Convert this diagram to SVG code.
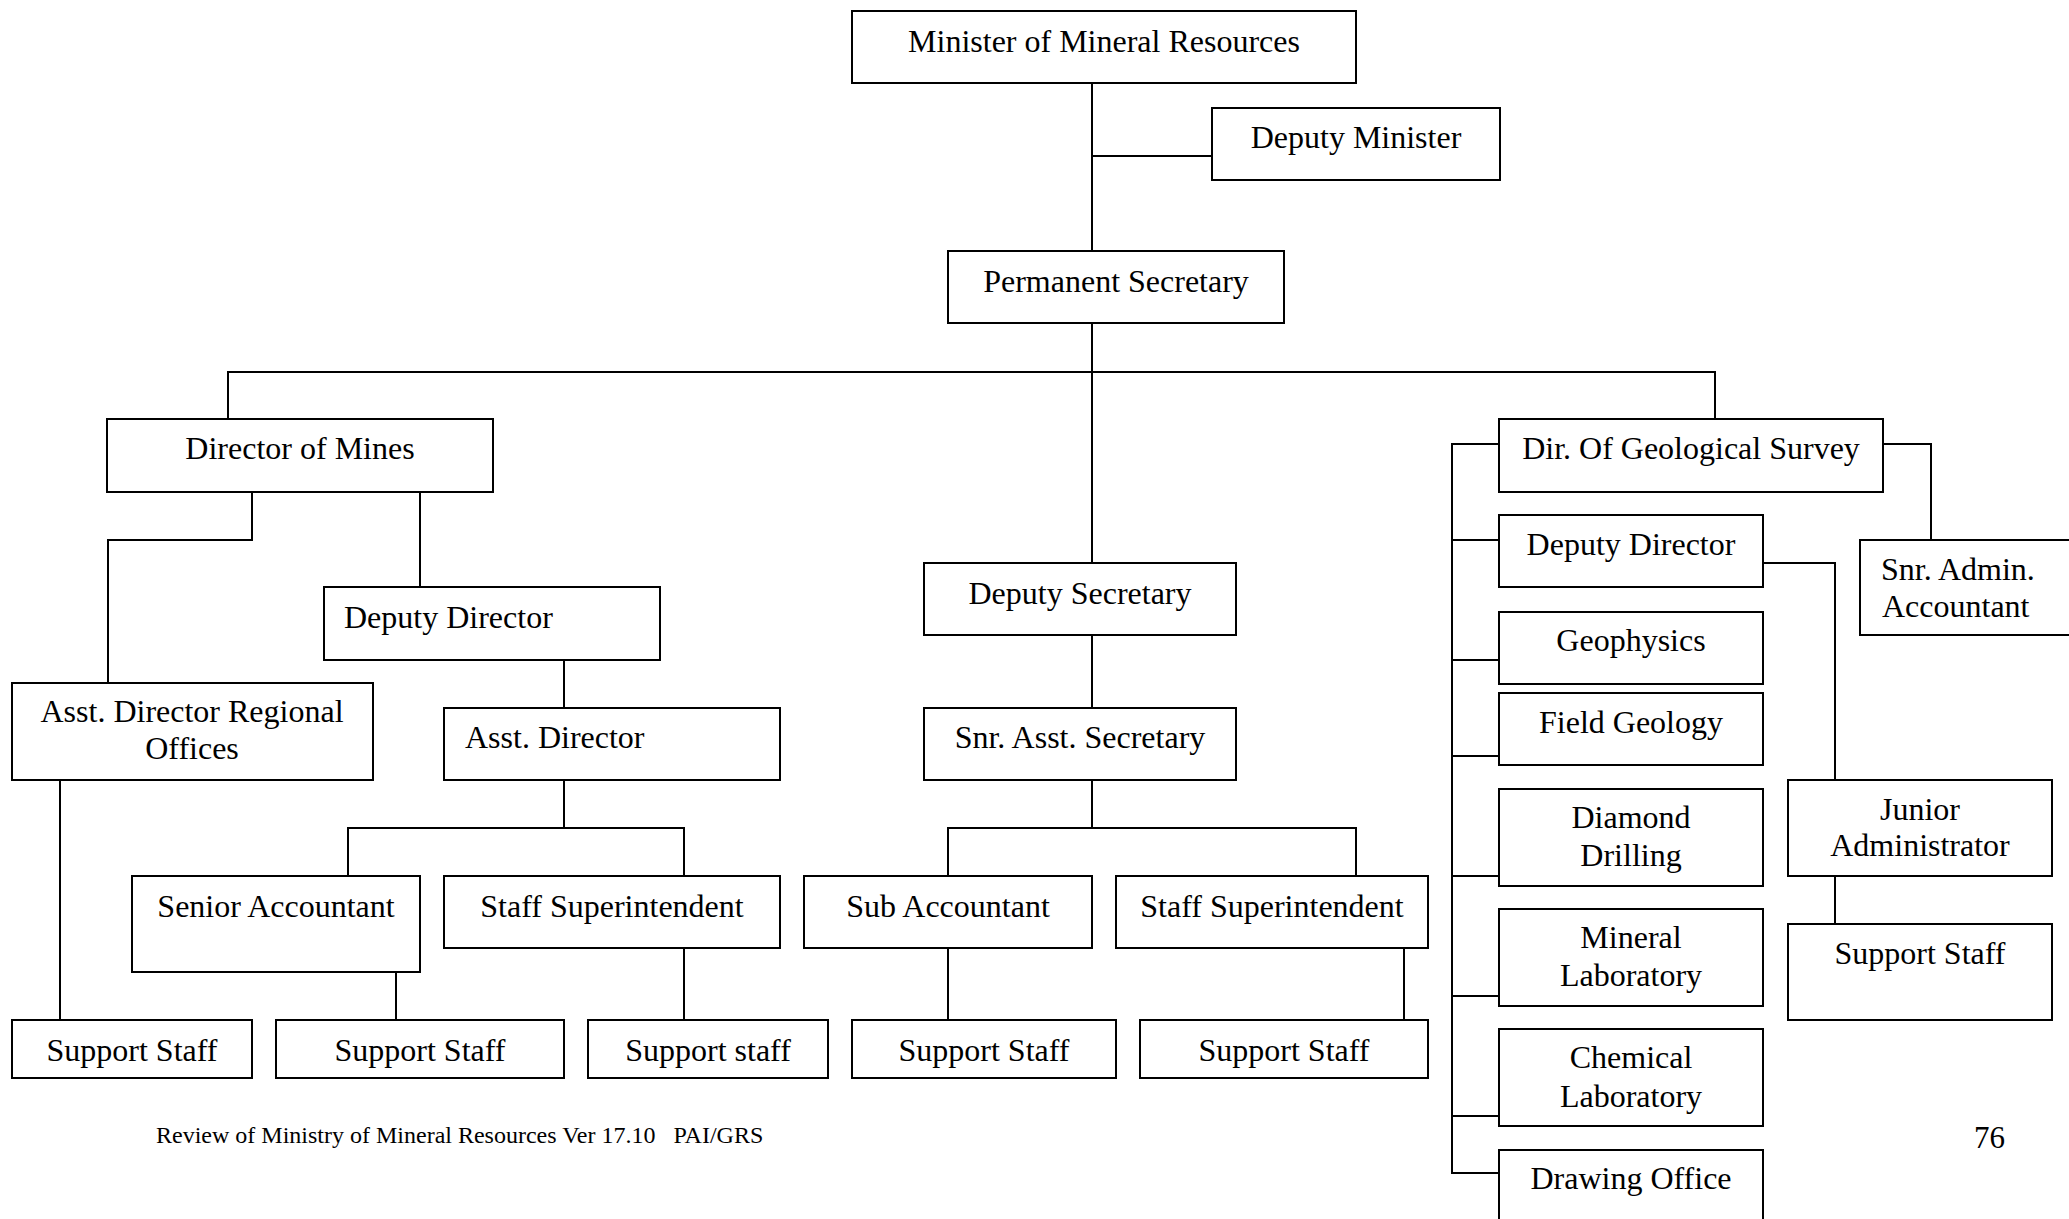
<svg xmlns="http://www.w3.org/2000/svg" width="2069" height="1219" viewBox="0 0 2069 1219">
<style>
rect{fill:#fff;stroke:#000;stroke-width:2}
.c path{fill:none;stroke:#000;stroke-width:2}
text{font-family:"Liberation Serif","Times New Roman",serif;font-size:32px;fill:#000}
.m{text-anchor:middle}
.s{text-anchor:start}
</style>
<rect x="0" y="0" width="2069" height="1219" style="stroke:none"/>
<g class="c" id="connectors">
<path d="M1092 83V251"/>
<path d="M1092 156H1212"/>
<path d="M1092 323V563"/>
<path d="M228 419V372H1715V419"/>
<path d="M252 492V540H108V683"/>
<path d="M420 492V587"/>
<path d="M564 660V708"/>
<path d="M564 780V828"/>
<path d="M348 876V828H684V876"/>
<path d="M60 780V1020"/>
<path d="M396 972V1020"/>
<path d="M684 948V1020"/>
<path d="M1092 635V708"/>
<path d="M1092 780V828"/>
<path d="M948 876V828H1356V876"/>
<path d="M948 948V1020"/>
<path d="M1404 948V1020"/>
<path d="M1499 444H1452V1173H1499"/>
<path d="M1452 540H1499M1452 660H1499M1452 756H1499M1452 876H1499M1452 996H1499M1452 1116H1499"/>
<path d="M1883 444H1931V540"/>
<path d="M1763 563H1835V780"/>
<path d="M1835 876V924"/>
</g>
<g id="minister"><rect x="852" y="11" width="504" height="72"/><text class="m" x="1104" y="52">Minister of Mineral Resources</text></g>
<g id="deputy-minister"><rect x="1212" y="108" width="288" height="72"/><text class="m" x="1356" y="148">Deputy Minister</text></g>
<g id="permanent-secretary"><rect x="948" y="251" width="336" height="72"/><text class="m" x="1116" y="292">Permanent Secretary</text></g>
<g id="director-mines"><rect x="107" y="419" width="386" height="73"/><text class="m" x="300" y="459">Director of Mines</text></g>
<g id="dir-geo"><rect x="1499" y="419" width="384" height="73"/><text class="m" x="1691" y="459">Dir. Of Geological Survey</text></g>
<g id="deputy-director-mines"><rect x="324" y="587" width="336" height="73"/><text class="s" x="344" y="628">Deputy Director</text></g>
<g id="deputy-secretary"><rect x="924" y="563" width="312" height="72"/><text class="m" x="1080" y="604">Deputy Secretary</text></g>
<g id="deputy-director-geo"><rect x="1499" y="515" width="264" height="72"/><text class="m" x="1631" y="555">Deputy Director</text></g>
<g id="snr-admin"><rect x="1860" y="540" width="260" height="95"/><text class="s" x="1881" y="580">Snr. Admin.</text><text class="s" x="1882" y="617">Accountant</text></g>
<g id="asst-dir-regional"><rect x="12" y="683" width="361" height="97"/><text class="m" x="192" y="722">Asst. Director Regional</text><text class="m" x="192" y="759">Offices</text></g>
<g id="asst-director"><rect x="444" y="708" width="336" height="72"/><text class="s" x="465" y="748">Asst. Director</text></g>
<g id="snr-asst-secretary"><rect x="924" y="708" width="312" height="72"/><text class="m" x="1080" y="748">Snr. Asst. Secretary</text></g>
<g id="senior-accountant"><rect x="132" y="876" width="288" height="96"/><text class="m" x="276" y="917">Senior Accountant</text></g>
<g id="staff-super-1"><rect x="444" y="876" width="336" height="72"/><text class="m" x="612" y="917">Staff Superintendent</text></g>
<g id="sub-accountant"><rect x="804" y="876" width="288" height="72"/><text class="m" x="948" y="917">Sub Accountant</text></g>
<g id="staff-super-2"><rect x="1116" y="876" width="312" height="72"/><text class="m" x="1272" y="917">Staff Superintendent</text></g>
<g id="support-1"><rect x="12" y="1020" width="240" height="58"/><text class="m" x="132" y="1061">Support Staff</text></g>
<g id="support-2"><rect x="276" y="1020" width="288" height="58"/><text class="m" x="420" y="1061">Support Staff</text></g>
<g id="support-3"><rect x="588" y="1020" width="240" height="58"/><text class="m" x="708" y="1061">Support staff</text></g>
<g id="support-4"><rect x="852" y="1020" width="264" height="58"/><text class="m" x="984" y="1061">Support Staff</text></g>
<g id="support-5"><rect x="1140" y="1020" width="288" height="58"/><text class="m" x="1284" y="1061">Support Staff</text></g>
<g id="geophysics"><rect x="1499" y="612" width="264" height="72"/><text class="m" x="1631" y="651">Geophysics</text></g>
<g id="field-geology"><rect x="1499" y="693" width="264" height="72"/><text class="m" x="1631" y="733">Field Geology</text></g>
<g id="diamond-drilling"><rect x="1499" y="789" width="264" height="97"/><text class="m" x="1631" y="828">Diamond</text><text class="m" x="1631" y="866">Drilling</text></g>
<g id="mineral-lab"><rect x="1499" y="909" width="264" height="97"/><text class="m" x="1631" y="948">Mineral</text><text class="m" x="1631" y="986">Laboratory</text></g>
<g id="chemical-lab"><rect x="1499" y="1029" width="264" height="97"/><text class="m" x="1631" y="1068">Chemical</text><text class="m" x="1631" y="1107">Laboratory</text></g>
<g id="drawing-office"><rect x="1499" y="1150" width="264" height="100"/><text class="m" x="1631" y="1189">Drawing Office</text></g>
<g id="junior-admin"><rect x="1788" y="780" width="264" height="96"/><text class="m" x="1920" y="820">Junior</text><text class="m" x="1920" y="856">Administrator</text></g>
<g id="support-6"><rect x="1788" y="924" width="264" height="96"/><text class="m" x="1920" y="964">Support Staff</text></g>
<text x="156" y="1143" style="font-size:24px;white-space:pre">Review of Ministry of Mineral Resources Ver 17.10   PAI/GRS</text>
<text x="1974" y="1148" style="font-size:31px">76</text>
</svg>
